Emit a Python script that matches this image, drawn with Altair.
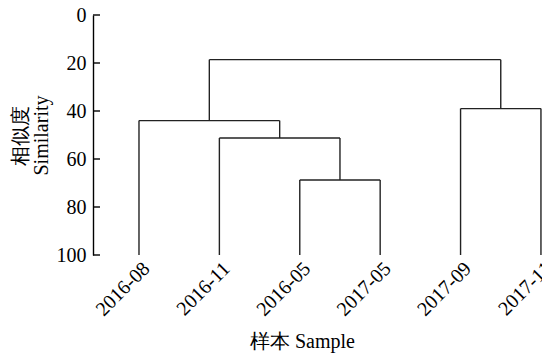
import altair as alt
import pandas as pd

# Leaves (left to right) of the dendrogram
leaves = ["2016-08", "2016-11", "2016-05", "2017-05", "2017-09", "2017-11"]
# Merges: (node a, node b, similarity height); new nodes numbered after leaves
merge_a = [2, 1, 0, 4, 8]
merge_b = [3, 6, 7, 5, 9]
merge_h = [68.75, 51.25, 44.0, 39.0, 18.6]
y_ticks = [0, 20, 40, 60, 80, 100]
leaf_height = 100

# Build dendrogram segments from linkage
pos = {i: float(i + 1) for i in range(len(leaves))}
hgt = {i: float(leaf_height) for i in range(len(leaves))}
segs = []
for k, (a, b, h) in enumerate(zip(merge_a, merge_b, merge_h)):
    node = len(leaves) + k
    segs.append({"x": pos[a], "x2": pos[a], "y": hgt[a], "y2": h})
    segs.append({"x": pos[b], "x2": pos[b], "y": hgt[b], "y2": h})
    segs.append({"x": pos[a], "x2": pos[b], "y": h, "y2": h})
    pos[node] = (pos[a] + pos[b]) / 2
    hgt[node] = h
seg_df = pd.DataFrame(segs)
tick_df = pd.DataFrame({"t": y_ticks})

serif = "Liberation Serif"
label_expr = "[" + ",".join(f"'{s}'" for s in leaves) + "][datum.value - 1]"

xscale = alt.Scale(domain=[0.428, 6.013], nice=False, zero=False)
yscale = alt.Scale(domain=[0, 100], reverse=True, nice=False)

lines = alt.Chart(seg_df).mark_rule(color="#222222", strokeWidth=1.4).encode(
    x=alt.X("x:Q", scale=xscale, axis=alt.Axis(
        values=list(range(1, len(leaves) + 1)), labelExpr=label_expr,
        domain=False, ticks=False, grid=False, labelAngle=-45,
        labelFont=serif, labelFontSize=20, labelColor="#000000", labelPadding=3,
        labelAlign="right", labelBaseline="top",
        title="样本 Sample", titleFont=serif, titleFontSize=20, titleFontWeight="normal",
        titleColor="#000000", titleX=209, titleY=86, titleAlign="center",
        titleBaseline="middle", titleAnchor="start")),
    x2="x2:Q",
    y=alt.Y("y:Q", scale=yscale, axis=alt.Axis(
        values=y_ticks, domain=True, domainColor="#000000", domainWidth=1.4,
        ticks=False, grid=False, labelFont=serif, labelFontSize=20,
        labelColor="#000000", labelPadding=7,
        title=["相似度", "Similarity"], titleFont=serif, titleFontSize=20,
        titleFontWeight="normal", titleColor="#000000", titleAngle=-90,
        titleX=-73, titleY=120, titleAlign="center", titleBaseline="middle",
        titleLineHeight=21, titleAnchor="start")),
    y2="y2:Q",
)

ticks = alt.Chart(tick_df).mark_rule(color="#000000", strokeWidth=1.4).encode(
    y=alt.Y("t:Q", scale=yscale),
    x=alt.value(0),
    x2=alt.value(7),
)

chart = alt.layer(lines, ticks).properties(
    width=449, height=240,
    background="white",
    autosize=alt.AutoSizeParams(type="none"),
    padding={"left": 93, "top": 15, "right": 0, "bottom": 99},
).configure_view(stroke=None, strokeWidth=0)

chart.save("out.html", embed_options={"renderer": "svg", "actions": False})
